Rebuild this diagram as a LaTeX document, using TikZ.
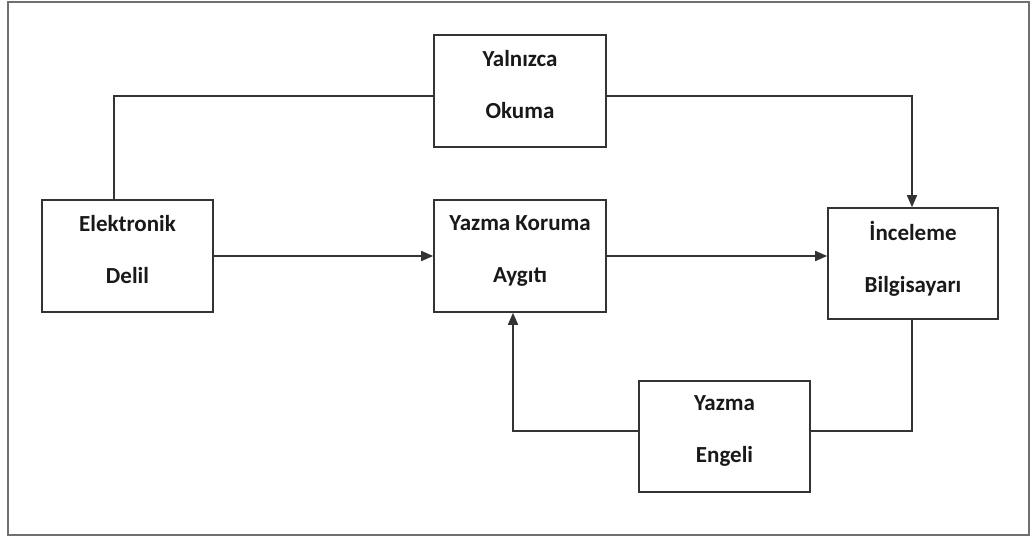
\documentclass[tikz,border=0pt]{standalone}
\usepackage{fontspec}
\setmainfont{Carlito}
\usetikzlibrary{arrows.meta,calc}
\definecolor{linec}{HTML}{333333}
\definecolor{framec}{HTML}{707070}
\tikzset{
  box/.style={draw=linec, line width=1.6pt, fill=white, align=center, inner sep=0pt,
    font=\fontsize{23pt}{52pt}\selectfont\bfseries, text=black!90},
  conn/.style={draw=linec, line width=1.6pt},
  arr/.style={conn, -{Triangle[length=12pt,width=10pt]}},
}
\newcommand{\dn}{\rule[-14pt]{0pt}{0pt}}
\begin{document}
\begin{tikzpicture}[x=1pt,y=-1pt]
\useasboundingbox (0,0) rectangle (1033,541);
\draw[framec, line width=2pt] (8,1.5) rectangle (1029,535);
\node[box, minimum width=172pt, minimum height=112pt] (yo) at (520,91) {Yalnızca\\Okuma\dn};
\node[box, minimum width=171pt, minimum height=112pt] (el) at (127.5,256) {Elektronik\\Delil\dn};
\node[box, minimum width=172pt, minimum height=112pt] (yk) at (520,256) {Yazma Koruma\\Aygıtı\dn};
\node[box, minimum width=170pt, minimum height=111pt] (in) at (913,263.5) {İnceleme\\Bilgisayarı\dn};
\node[box, minimum width=171pt, minimum height=111pt] (ye) at (724.5,436.5) {Yazma\\Engeli\dn};
\draw[conn] ([xshift=-13.5pt]el.north) |- ([yshift=-5pt]yo.west);
\draw[arr] ([yshift=-5pt]yo.east) -| ([xshift=-1pt]in.north);
\draw[arr] (el.east) -- (el.east -| yk.west);
\draw[arr] (yk.east) -- (yk.east -| in.west);
\draw[conn] ([xshift=-1pt]in.south) |- ([yshift=5.5pt]ye.east);
\draw[arr] ([yshift=5.5pt]ye.west) -| ([xshift=-7pt]yk.south);
\end{tikzpicture}
\end{document}
